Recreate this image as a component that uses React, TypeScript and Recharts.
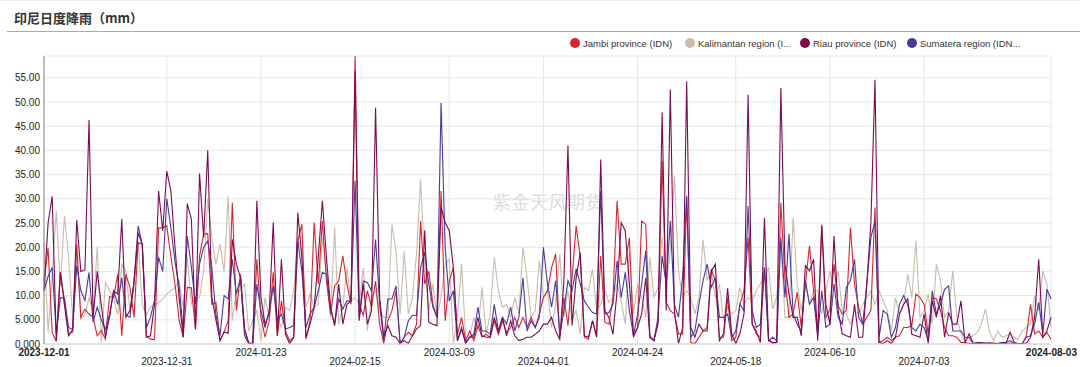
import React from "react";
import { LineChart, Line, XAxis, YAxis, CartesianGrid } from "recharts";

// daily rainfall, mm — 2023-12-01 .. 2024-08-03 (247 days)
const firstDay = "2023-12-01";
const lastDay = "2024-08-03";

const tickDates = [
  "2023-12-01", "2023-12-31", "2024-01-23", "2024-02-15", "2024-03-09", "2024-04-01",
  "2024-04-24", "2024-05-18", "2024-06-10", "2024-07-03", "2024-08-03",
];

const yTicks = [0, 5, 10, 15, 20, 25, 30, 35, 40, 45, 50, 55];

const jambi = [
  13, 19.8, 2.4, 0.5, 14.8, 9, 2, 2.5, 20.6, 5.5, 7.2, 6.2, 5.5, 1.7, 2.8, 1, 9.8, 9.6, 14.4, 1.7, 14.4,
  11.7, 5.5, 21, 20.6, 1.7, 1, 0.9, 24, 24, 24.4, 18, 12.4, 5, 1.4, 11.7, 11.6, 3, 18.2, 22.7, 22.8, 8.2,
  8.6, 0.7, 2.5, 4.8, 29.2, 6.9, 14.4, 3, 0.2, 0.1, 17.5, 5.5, 1.4, 4.8, 14.8, 1.7, 8.9, 2.7, 0.7, 1.4, 21.3,
  24.7, 1, 4.8, 25.1, 12.4, 25.4, 13, 6.2, 12, 13, 18.2, 12.4, 8.2, 59.5, 8.2, 5.9, 11, 7.6, 13, 4, 0.1,
  4.8, 6.9, 11, 0.1, 1.4, 2.4, 1.7, 4.1, 25.4, 12.4, 15, 8.2, 5.5, 31.6, 4.8, 13, 15.8, 2, 5.5, 0.7, 2.7,
  0.7, 3.8, 1.4, 2, 1.4, 4.8, 2, 4.8, 2.4, 3.4, 5.5, 3.4, 5.5, 3.4, 5.5, 3.4, 6.2, 9.6, 11, 15.8,
  18.6, 1.4, 9.6, 3.8, 13.7, 24.4, 17.9, 1.4, 1, 4.8, 1.7, 18.2, 4.5, 4.1, 9.6, 29.6, 16.5, 16.5, 22, 1.4,
  3.4, 25.4, 24.7, 1.4, 0.7, 4.8, 37.8, 8.6, 6.9, 6.2, 2.1, 2.1, 30.2, 0.3, 0.1, 1.4, 2.7, 3.4, 15.5, 13.1, 1.4,
  1.4, 9.6, 0.7, 1.4, 8.2, 11, 22, 4.1, 2.1, 1.4, 15.8, 1, 0.1, 0.3, 29.2, 13.7, 5.5, 6.2, 10.7, 3.4,
  12.4, 20.3, 11, 2.7, 24.7, 5.5, 7.2, 16.5, 7.9, 6.2, 6.9, 24, 12.4, 7.6, 4.1, 5.5, 6.9, 28.2, 0.3, 0.7, 1.4,
  0.7, 1.4, 1.7, 3.4, 3.4, 3.8, 10.3, 9.6, 8.2, 2.1, 9.6, 9.3, 6.9, 3.4, 1.7, 1.7, 1.4, 0.3, 0.3, 0.1,
  0.1, 0.2, 0.1, 0.1, 0.1, 0.2, 0.1, 0.1, 0.1, 0.2, 0.1, 0.1, 0.1, 1.7, 8.2, 2.1, 2.7, 1.4, 2.4, 1,
];

const kalimantan = [
  21, 2.4, 14, 27.5, 12, 26.5, 17.9, 5.5, 19, 5.2, 6, 9.6, 6.8, 20, 0.3, 12.7, 11, 9.6, 6, 16.5, 15,
  6.9, 11.7, 21, 8.2, 6, 7.6, 8.2, 8.5, 9.3, 10.3, 11, 11.7, 13, 7.6, 17.9, 8.2, 9.6, 9.6, 15, 30, 22,
  16.5, 20.6, 15, 30.6, 4.8, 11, 11, 12.4, 2.7, 4.8, 6.9, 0.7, 9.6, 5.5, 11.7, 5.5, 3.4, 7.6, 6.9, 11, 21.6,
  19.2, 7.6, 10.3, 7.6, 8.2, 22, 15, 5.5, 24, 4.1, 7.6, 15.8, 8.9, 9.6, 8.2, 15.8, 2.7, 9.6, 11, 6.9, 5.5,
  5.5, 24.7, 19.2, 6.2, 19.2, 6.2, 9.6, 18.6, 34, 16.5, 6.9, 12.4, 5.5, 9.6, 16.5, 17.5, 0.1, 5.5, 16.5, 1.4,
  1.4, 5.5, 2.7, 11.7, 2, 6.2, 17.9, 11, 7.6, 8.2, 5.5, 9.6, 6.2, 20, 13.7, 5.5, 6.9, 17.2, 9.6, 11, 3.4,
  8.2, 18.6, 5.5, 11, 4.8, 6.9, 2.1, 11.7, 11, 15.5, 6.9, 8.2, 11, 8.6, 9.6, 12.4, 8.9, 4.1, 19.2, 6.2,
  12.4, 9.6, 5.5, 17.9, 9.6, 11.7, 22, 12.4, 19.2, 34.7, 15.1, 9.6, 11, 9.6, 6.2, 9.6, 21.6, 13.1, 15.1, 9.6, 12.4,
  4.8, 7.6, 6.2, 6.9, 11.7, 8.2, 9.6, 8.9, 11, 12.4, 13.7, 15.8, 7.2, 9.6, 21.3, 5.5, 5.5, 26.1, 12.4, 6.9,
  12.4, 8.2, 11, 11, 6.2, 11, 15.1, 11, 15.1, 6.9, 6.2, 4.1, 6.9, 6.2, 8.2, 9.6, 11, 8.2, 11, 8.9, 6.9,
  2.7, 9.6, 6.2, 8.2, 14.4, 9.6, 21.3, 5.5, 6.9, 10.3, 4.1, 16.5, 13.1, 5.5, 6.9, 15.1, 5.5, 2.1, 0.7, 1.4,
  1.7, 2.4, 4.1, 7.2, 2.4, 0.7, 2.7, 1.4, 1.7, 2.1, 1.4, 1, 2.7, 3.4, 4.1, 10, 6.9, 15.1, 12.4, 3.4,
];

const riau = [
  11, 25, 30.5, 0.7, 14.8, 8, 1.7, 3, 25.6, 15, 15.3, 46.3, 5.5, 15, 8, 1.4, 5.5, 11, 10.3, 25.8, 5.5,
  6.9, 13, 23, 20.6, 1.4, 1.7, 8.2, 31.6, 23.4, 35.7, 31.6, 20, 9.6, 1.4, 29, 25.8, 3.1, 35.2, 22, 40, 9.6,
  5, 0.7, 2.5, 2.2, 21.6, 16.5, 13.7, 3, 0.2, 0.1, 29.6, 9.6, 4.1, 6.2, 25.1, 1.7, 17.5, 2, 0.1, 1.4, 27.1,
  17.9, 1.4, 4.1, 7.6, 17.9, 29.6, 17.9, 7.6, 3.8, 12.4, 4.1, 8.2, 8.9, 56.4, 4.8, 12.4, 4.1, 6.9, 48.8, 9.6, 1.4,
  3.8, 1.7, 1.4, 0.1, 0.7, 0.1, 1.7, 3.1, 3.8, 23.5, 4.5, 4.1, 3.8, 28.2, 25.1, 23.4, 15.8, 0.7, 3.1, 0.3,
  1.4, 1.4, 5.5, 1.7, 1.4, 1.4, 5.5, 2.4, 5.5, 1.7, 4.8, 1.7, 0.7, 1, 1.4, 1.4, 2, 2.7, 4.1, 4.1, 5.5,
  2.7, 1, 13, 41, 3.8, 13.7, 18.9, 1.7, 1.4, 4.8, 1.4, 38.1, 6.9, 5.5, 2, 11, 25.1, 23.4, 12.4, 1.7,
  3.4, 6.2, 13.7, 1.4, 0.7, 4.1, 47.8, 6.9, 52.6, 6.9, 0.1, 3.4, 54.3, 3.4, 1.4, 4.1, 2.7, 2.7, 15, 16.5, 0.7,
  2.1, 11.5, 2.1, 0.1, 2.1, 6.2, 51.5, 4.1, 2.7, 0.3, 26.1, 0.7, 0.3, 0.3, 52.9, 16.5, 10.3, 5.5, 5.5, 1.7,
  16.2, 15.1, 17.5, 0.7, 24.4, 8.2, 4.1, 22.3, 6.9, 2.1, 1.7, 1.4, 8.2, 1.4, 1.4, 12.4, 25, 54.6, 0.3, 0.1, 0.7,
  0.1, 1.4, 6.2, 8.2, 9.3, 2, 1.7, 1.4, 6.2, 0.1, 8.9, 5.5, 10, 1.4, 6.5, 4.1, 4.1, 8.9, 0.3, 2.1,
  0.1, 0.2, 0.1, 0.1, 0.2, 0.1, 0.1, 0.2, 0.1, 2.4, 0.3, 0.1, 0.1, 0.2, 1.4, 5.5, 17.5, 1.4, 2.7, 5.5,
];

const sumatera = [
  11, 14, 15.8, 2, 9.6, 9.4, 3.4, 3, 16.2, 11, 9, 14.8, 4.5, 7.6, 5, 3, 6, 11, 8.2, 13.7, 6,
  5.5, 13, 24.4, 20.6, 3.4, 5.5, 9, 17.9, 15, 30, 24, 17, 12, 2.7, 22.3, 15.8, 8.2, 16.5, 20, 21.3, 15.8,
  6, 1.7, 10, 9.3, 17.5, 10.3, 13.7, 1.7, 0.1, 0.1, 12.4, 6.9, 3.4, 6.9, 12, 4.8, 6.2, 3.1, 3.4, 3.8, 21.3,
  15, 3.4, 6.2, 7.6, 11, 14.8, 14.4, 7.2, 4.1, 9.3, 7.2, 8.9, 8.9, 33.7, 5.5, 13, 12.7, 11, 21.6, 8.2, 0.7,
  9.3, 9.3, 12, 0.1, 1.4, 4.8, 5.9, 5.9, 15.8, 18.9, 12.4, 7.6, 5.5, 49.8, 20, 8.9, 11, 0.7, 3.4, 0.1,
  1.4, 2, 7.6, 2.7, 2.7, 2, 8.2, 2.7, 5.5, 4.1, 7.6, 2.7, 5.5, 13.7, 2.7, 4.8, 3.4, 5.5, 20, 12.4, 7.6,
  13.1, 1.7, 6.9, 13.1, 11, 15.5, 12.4, 8.9, 7.6, 6.5, 6.2, 31.6, 6.2, 6.5, 8.2, 17.2, 9.6, 14.8, 6.9, 1.7,
  6.2, 12.4, 19.2, 1.7, 0.7, 5.5, 18.2, 12.4, 25.4, 8.2, 5.5, 13.7, 30.6, 1.4, 2.7, 8.2, 13.1, 16.5, 11.7, 13.7, 5.5,
  5.5, 6.2, 1.4, 2.7, 8.2, 6.9, 28.5, 6.9, 3.4, 4.1, 15.8, 0.7, 1.4, 0.7, 22, 9.6, 22.7, 6.2, 4.1, 2.7,
  13.1, 8.2, 9.6, 1.7, 11, 3.4, 4.1, 12.4, 5.5, 4.1, 11.7, 13.1, 17.5, 5.5, 4.1, 12.4, 22, 25.4, 1.4, 6.9, 6.2,
  1.4, 3.4, 8.2, 10, 8.2, 3.4, 2.7, 4.1, 3.4, 0.7, 11, 6.2, 8.2, 11.3, 12, 2.7, 2.7, 2.7, 1.4, 1.4,
  0.1, 0.3, 0.3, 0.2, 0.2, 0.1, 0.1, 0.3, 0.3, 0.7, 0.1, 0.1, 0.1, 1.4, 1.7, 4.1, 8.6, 2.1, 11.3, 9.3,
];

const series = [
  { key: "kalimantan", name: "Kalimantan region (I...", color: "#c8bcac" },
  { key: "jambi", name: "Jambi province (IDN)", color: "#d8252c" },
  { key: "sumatera", name: "Sumatera region (IDN...", color: "#4a3a9e" },
  { key: "riau", name: "Riau province (IDN)", color: "#7d0b52" },
];

// legend order as shown on the chart
const legendOrder = ["jambi", "kalimantan", "riau", "sumatera"];
const legendX = [570, 685, 800, 907];

function dayList(from: string, to: string): string[] {
  const out: string[] = [];
  const end = Date.parse(to + "T00:00:00Z");
  for (let t = Date.parse(from + "T00:00:00Z"); t <= end; t += 86400000) {
    out.push(new Date(t).toISOString().slice(0, 10));
  }
  return out;
}

const dates = dayList(firstDay, lastDay);
const rows = dates.map((date, i) => ({
  date,
  jambi: jambi[i],
  kalimantan: kalimantan[i],
  riau: riau[i],
  sumatera: sumatera[i],
}));

const fmtY = (v: number) => (v < 10 ? v.toFixed(3) : v.toFixed(2));

const DateTick = (props: any) => {
  const { x, y, payload } = props;
  const idx = tickDates.indexOf(payload.value);
  const last = idx === tickDates.length - 1;
  const edge = idx === 0 || last;
  return (
    <text
      x={last ? x + 26 : x}
      y={y + (idx % 2 === 0 ? 12 : 21)}
      textAnchor={last ? "end" : "middle"}
      fontSize={10}
      fontFamily="'Liberation Sans', Arial, sans-serif"
      fontWeight={edge ? 700 : 400}
      fill="#222"
    >
      {payload.value}
    </text>
  );
};

export default function App() {
  // fixed to the viewport so the page margin cannot clip the edges
  return (
    <div style={{ position: "fixed", left: 0, top: 0, width: 1080, height: 367, background: "#fff" }}>
      <div style={{ position: "absolute", left: 0, top: 0, width: 1080, height: 1, background: "#ececec" }} />
      <div
        style={{
          position: "absolute",
          left: 14,
          top: 9,
          fontFamily: "'Noto Sans CJK SC', sans-serif",
          fontWeight: 700,
          fontSize: 13,
          lineHeight: "18px",
          color: "#333",
        }}
      >
        印尼日度降雨（mm）
      </div>
      <div style={{ position: "absolute", left: 7, top: 31, width: 1073, height: 1, background: "#aaa" }} />

      {legendOrder.map((k, i) => {
        const s = series.find((d) => d.key === k)!;
        return (
          <div
            key={k}
            style={{
              position: "absolute",
              left: legendX[i],
              top: 37,
              height: 12,
              display: "flex",
              alignItems: "center",
              fontFamily: "'Liberation Sans', Arial, sans-serif",
              fontSize: 9.5,
              color: "#333",
              whiteSpace: "nowrap",
            }}
          >
            <span
              style={{ width: 10, height: 10, borderRadius: 5, background: s.color, marginRight: 3, display: "inline-block" }}
            />
            {s.name}
          </div>
        );
      })}

      <div
        style={{
          position: "absolute",
          left: 493,
          top: 188,
          fontFamily: "'Noto Sans CJK SC', sans-serif",
          fontSize: 18,
          color: "#dcdcdc",
          letterSpacing: 0.5,
        }}
      >
        紫金天风期货
      </div>

      <div style={{ position: "absolute", left: 0, top: 0 }}>
        <LineChart width={1080} height={367} data={rows} margin={{ top: 56, right: 29, bottom: 0, left: 0 }}>
          <CartesianGrid stroke="#e6e6e6" />
          <XAxis
            dataKey="date"
            ticks={tickDates}
            interval={0}
            height={23}
            tickSize={0}
            tickMargin={0}
            axisLine={{ stroke: "#d0d0d0" }}
            tick={<DateTick />}
          />
          <YAxis
            width={44}
            domain={[0, "dataMax"]}
            ticks={yTicks}
            tickFormatter={fmtY}
            tickSize={0}
            tickMargin={4}
            axisLine={{ stroke: "#888" }}
            tick={{ fontSize: 10, fill: "#222", fontFamily: "'Liberation Sans', Arial, sans-serif" }}
          />
          {series.map((s) => (
            <Line
              key={s.key}
              type="linear"
              dataKey={s.key}
              name={s.name}
              stroke={s.color}
              strokeWidth={1.1}
              dot={false}
              activeDot={false}
              isAnimationActive={false}
            />
          ))}
        </LineChart>
      </div>
    </div>
  );
}
